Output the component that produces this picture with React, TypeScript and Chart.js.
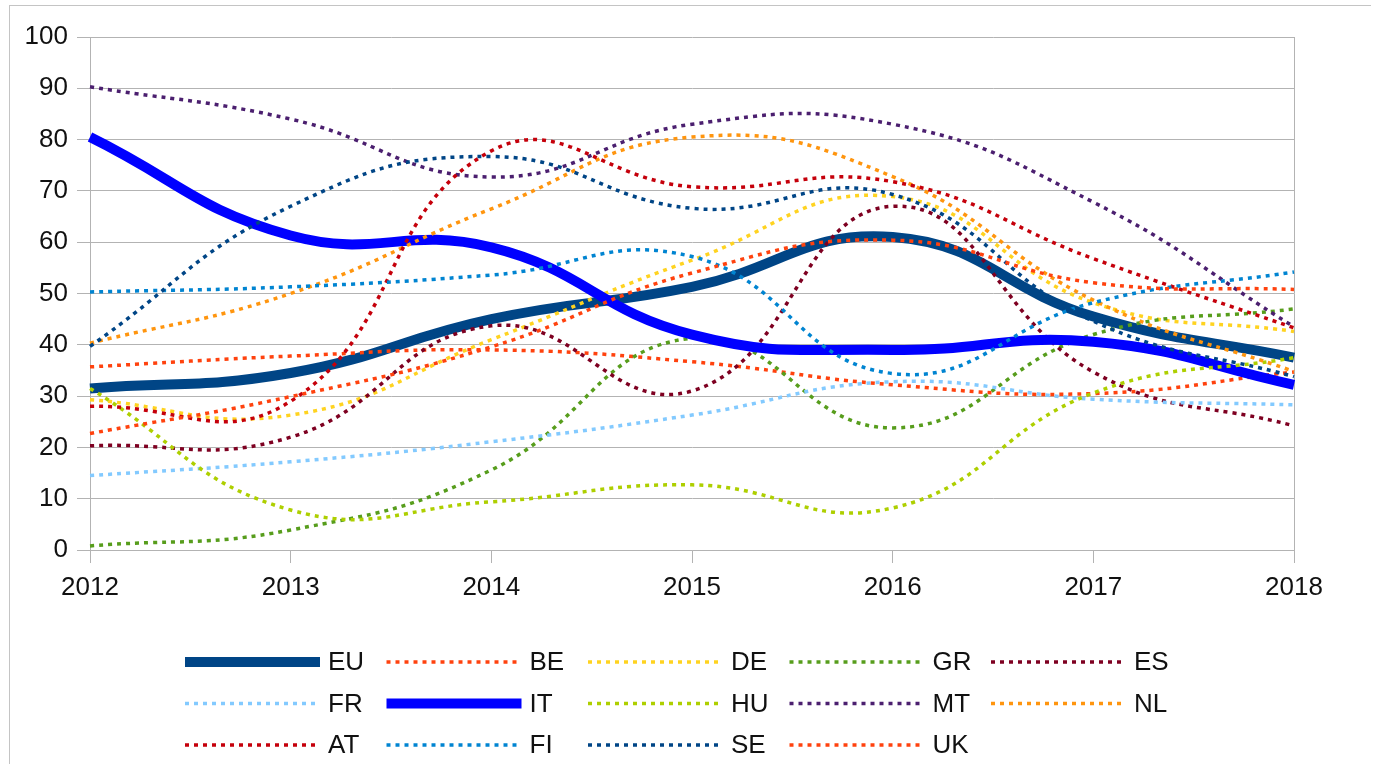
import React, { useEffect, useRef } from "react";
import { Chart, registerables } from "chart.js";

Chart.register(...registerables);

const years = ["2012", "2013", "2014", "2015", "2016", "2017", "2018"];

const seriesNames = ["EU", "BE", "DE", "GR", "ES", "FR", "IT", "HU", "MT", "NL", "AT", "FI", "SE", "UK"];

const EU = [31.5, 34.5, 45, 51.3, 61, 45.5, 37.5];
const BE = [35.7, 37.8, 39, 36.7, 32.2, 30.5, 34.7];
const DE = [29.3, 26.3, 41, 56.5, 68.9, 48.2, 42.6];
const GR = [0.8, 3.9, 15.6, 41.3, 23.8, 42, 47];
const ES = [20.3, 22, 43.7, 31, 67, 34.7, 24.2];
const FR = [14.5, 17.2, 21.1, 26.3, 32.8, 29.4, 28.3];
const IT = [80.5, 61.3, 59, 42, 39, 40.6, 32.2];
const HU = [31.5, 7.8, 9.4, 12.7, 8.2, 30.6, 37.5];
const MT = [90.3, 84, 72.7, 83, 83, 67.8, 43.5];
const NL = [40.3, 50, 66.5, 80.5, 72.8, 48.7, 34.8];
const AT = [28, 29, 77.8, 70.8, 71.8, 56.8, 43.3];
const FI = [50.3, 51.3, 53.6, 57.2, 34.4, 48.2, 54.2];
const SE = [39.7, 67, 76.7, 66.6, 69.3, 44.6, 33.8];
const UK = [22.7, 29.9, 39.6, 54, 60.4, 52.1, 50.8];

const seriesValues = [EU, BE, DE, GR, ES, FR, IT, HU, MT, NL, AT, FI, SE, UK];

const seriesColors = [
  "#004586", "#ff420e", "#ffd320", "#579d1c", "#7e0021", "#83caff", "#0000ff",
  "#aecf00", "#4b1f6f", "#ff950e", "#c5000b", "#0084d1", "#004586", "#ff420e",
];
const thickSeries = ["EU", "IT"];

const yTicks = [0, 10, 20, 30, 40, 50, 60, 70, 80, 90, 100];

const FONT = '"Liberation Sans", Arial, sans-serif';
const DOT = [4, 5];

const gridLegend = {
  id: "gridLegend",
  afterDraw(chart: any) {
    const ctx = chart.ctx;
    const ds = chart.data.datasets;
    const x0 = 185, y0 = 662, dx = 201.5, dy = 41.5, len = 135, tx = 143;
    ctx.save();
    ds.forEach((d: any, i: number) => {
      const col = i % 5;
      const row = Math.floor(i / 5);
      const x = x0 + col * dx;
      const y = y0 + row * dy;
      ctx.beginPath();
      ctx.strokeStyle = d.borderColor;
      ctx.lineWidth = d.borderWidth;
      ctx.lineCap = "butt";
      ctx.setLineDash(d.borderDash || []);
      ctx.moveTo(x, y);
      ctx.lineTo(x + len, y);
      ctx.stroke();
      ctx.setLineDash([]);
      ctx.fillStyle = "#111";
      ctx.font = `26px ${FONT}`;
      ctx.textBaseline = "middle";
      ctx.textAlign = "left";
      ctx.fillText(d.label, x + tx, y + 1);
    });
    ctx.restore();
  },
};

export default function App() {
  const ref = useRef<HTMLCanvasElement | null>(null);

  useEffect(() => {
    if (!ref.current) return;
    const n = seriesNames.length;
    const chart = new Chart(ref.current, {
      type: "line",
      data: {
        labels: years,
        datasets: seriesNames.map((name, i) => {
          const thick = thickSeries.includes(name);
          return {
            label: name,
            data: seriesValues[i],
            borderColor: seriesColors[i],
            backgroundColor: seriesColors[i],
            borderWidth: thick ? 10 : 3.5,
            borderDash: thick ? [] : DOT,
            borderCapStyle: "butt",
            borderJoinStyle: "round",
            pointRadius: 0,
            tension: 0.45,
            fill: false,
            order: n - i,
          } as any;
        }),
      },
      options: {
        animation: false,
        responsive: false,
        maintainAspectRatio: false,
        layout: { padding: { top: 37, right: 81, left: 0, bottom: 0 } },
        plugins: {
          legend: { display: false },
          tooltip: { enabled: false },
        },
        scales: {
          x: {
            type: "category",
            offset: false,
            afterFit: (s: any) => {
              s.height = 214;
            },
            grid: {
              display: true,
              drawOnChartArea: true,
              color: (c: any) =>
                c.index === 0 || c.index === years.length - 1 ? "#b3b3b3" : "rgba(0,0,0,0)",
              tickColor: "#b3b3b3",
              tickLength: 13,
              lineWidth: 1,
            },
            border: { display: true, color: "#b3b3b3" },
            ticks: {
              color: "#111",
              font: { family: FONT, size: 26 },
              padding: 9,
              maxRotation: 0,
              autoSkip: false,
            },
          },
          y: {
            min: 0,
            max: 100,
            afterFit: (s: any) => {
              s.width = 90;
            },
            afterBuildTicks: (s: any) => {
              s.ticks = yTicks.map((v) => ({ value: v }));
            },
            grid: {
              color: "#b3b3b3",
              tickColor: "#b3b3b3",
              tickLength: 13,
              lineWidth: 1,
            },
            border: { display: true, color: "#b3b3b3" },
            ticks: {
              color: "#111",
              font: { family: FONT, size: 26 },
              padding: 9,
            },
          },
        },
      },
      plugins: [gridLegend],
    });
    return () => chart.destroy();
  }, []);

  return (
    <div
      style={{
        position: "fixed",
        left: 0,
        top: 0,
        width: 1375,
        height: 764,
        background: "#fff",
        overflow: "hidden",
      }}
    >
      <div
        style={{
          position: "absolute",
          left: 9,
          top: 5,
          width: 1361,
          height: 800,
          borderLeft: "1px solid #c4c4c4",
          borderTop: "1px solid #c4c4c4",
        }}
      />
      <canvas
        ref={ref}
        width={1375}
        height={764}
        style={{ position: "absolute", left: 0, top: 0, width: 1375, height: 764 }}
      />
    </div>
  );
}
